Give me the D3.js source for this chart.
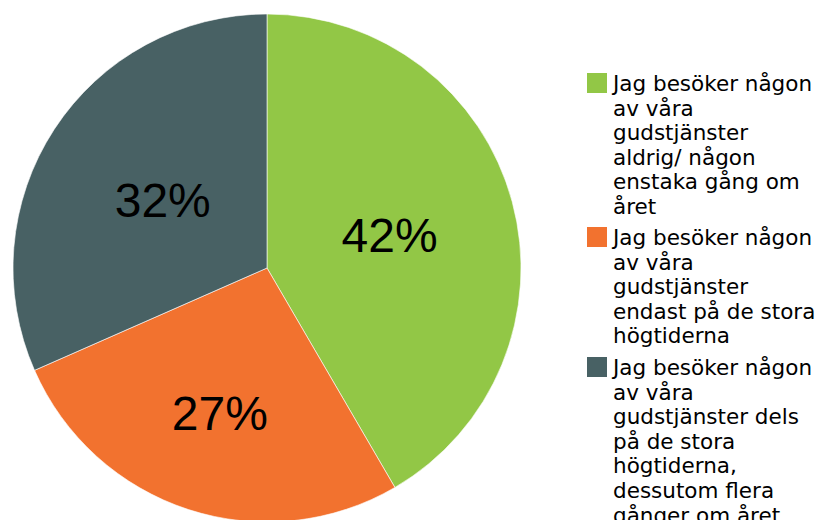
<!DOCTYPE html>
<html>
<head>
<meta charset="utf-8">
<script src="https://cdn.jsdelivr.net/npm/d3@7"></script>
<style>
  body { margin: 0; background: #fff; }
  svg { display: block; }
</style>
</head>
<body>
<div id="container"></div>
<script>
var width = 821,
    height = 520;

// data
var categories = [
  "Jag besöker någon av våra gudstjänster aldrig/ någon enstaka gång om året",
  "Jag besöker någon av våra gudstjänster endast på de stora högtiderna",
  "Jag besöker någon av våra gudstjänster dels på de stora högtiderna, dessutom flera gånger om året"
];
var values = [41.6, 26.8, 31.6];
var pctLabels = ["42%", "27%", "32%"];
// legend text broken the way the original wraps it
var legendLines = [
  ["Jag besöker någon", "av våra", "gudstjänster", "aldrig/ någon", "enstaka gång om", "året"],
  ["Jag besöker någon", "av våra", "gudstjänster", "endast på de stora", "högtiderna"],
  ["Jag besöker någon", "av våra", "gudstjänster dels", "på de stora", "högtiderna,", "dessutom flera", "gånger om året"]
];

var colors = ["#92c746", "#f2722f", "#486164"];

var cx = 267, cy = 268, radius = 254;
var labelRadius = [0.50, 0.60, 0.49];

var svg = d3.select("#container")
            .append("svg")
            .attr("width", width)
            .attr("height", height);

var pie = d3.pie().sort(null).value(function(d) { return d; });
var arcs = pie(values);

var arc = d3.arc().innerRadius(0).outerRadius(radius);

var g = svg.append("g").attr("transform", "translate(" + cx + "," + cy + ")");

g.selectAll(".slice")
  .data(arcs)
  .enter().append("path")
  .attr("class", "slice")
  .attr("d", arc)
  .style("fill", function(d, i) { return colors[i]; })
  .style("stroke", "#fff")
  .style("stroke-width", 0.6);

g.selectAll(".pct")
  .data(arcs)
  .enter().append("text")
  .attr("class", "pct")
  .attr("transform", function(d, i) {
    var r = radius * labelRadius[i];
    var a = (d.startAngle + d.endAngle) / 2;
    return "translate(" + (Math.sin(a) * r) + "," + (-Math.cos(a) * r) + ")";
  })
  .attr("text-anchor", "middle")
  .attr("dy", "0.36em")
  .style("font-family", "'Liberation Sans', Arial, sans-serif")
  .style("font-size", "48px")
  .style("fill", "#000")
  .text(function(d, i) { return pctLabels[i]; });

// legend
var legendTop = [73, 227, 357],
    lineH = 24.6;

var legend = svg.append("g").attr("id", "legend");

categories.forEach(function(c, i) {
  var item = legend.append("g").attr("transform", "translate(587," + legendTop[i] + ")");
  item.append("rect")
      .attr("width", 20).attr("height", 20)
      .style("fill", colors[i]);
  var t = item.append("text")
      .style("font-family", "'DejaVu Sans', Verdana, sans-serif")
      .style("font-size", "21.5px")
      .style("fill", "#000");
  t.append("title").text(c);
  legendLines[i].forEach(function(line, j) {
    t.append("tspan")
     .attr("x", 26)
     .attr("y", 18 + j * lineH)
     .text(line);
  });
});
</script>
</body>
</html>
